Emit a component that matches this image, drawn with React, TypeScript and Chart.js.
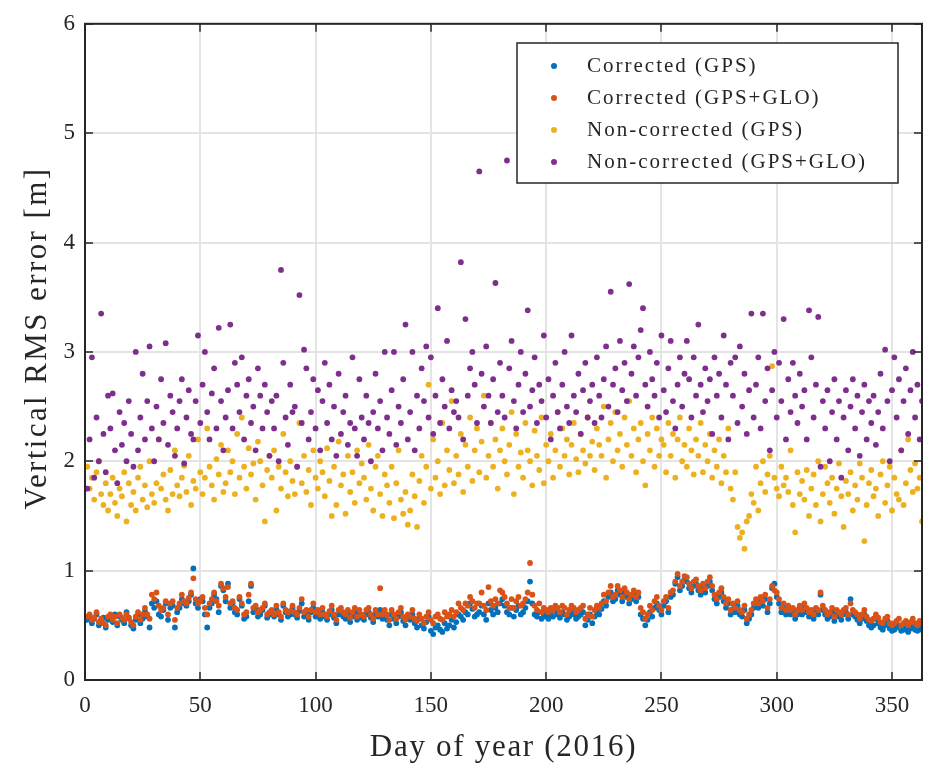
import React, { useEffect, useRef } from 'react';
import { Chart, registerables } from 'chart.js';
Chart.register(...registerables);

const seriesNames = ['Corrected (GPS)', 'Corrected (GPS+GLO)', 'Non-corrected (GPS)', 'Non-corrected (GPS+GLO)'];
const seriesColors = ['#0072BD', '#D95319', '#EDB120', '#7E2F8E'];
const xTickValues = [0, 50, 100, 150, 200, 250, 300, 350];
const yTickValues = [0, 1, 2, 3, 4, 5, 6];
const xTitle = 'Day of year (2016)';
const yTitle = 'Vertical RMS error [m]';

// Day of year 1..365
const correctedGPS = [
  0.55,0.58,0.52,0.56,0.6,0.5,0.54,0.57,0.48,0.55,
  0.56,0.53,0.6,0.5,0.58,0.55,0.52,0.62,0.57,0.5,
  0.47,0.55,0.6,0.52,0.56,0.63,0.58,0.48,0.7,0.66,
  0.72,0.6,0.58,0.64,0.7,0.55,0.66,0.68,0.48,0.62,
  0.66,0.74,0.7,0.68,0.72,0.78,1.02,0.7,0.66,0.74,
  0.72,0.6,0.48,0.66,0.7,0.78,0.74,0.62,0.86,0.82,
  0.72,0.88,0.66,0.7,0.62,0.6,0.74,0.68,0.56,0.58,
  0.72,0.86,0.62,0.66,0.58,0.6,0.64,0.68,0.57,0.6,
  0.62,0.58,0.65,0.6,0.55,0.68,0.62,0.58,0.6,0.66,
  0.6,0.57,0.63,0.7,0.58,0.6,0.55,0.62,0.66,0.58,
  0.6,0.56,0.62,0.58,0.55,0.6,0.64,0.57,0.52,0.6,
  0.62,0.58,0.56,0.6,0.53,0.58,0.62,0.55,0.6,0.57,
  0.55,0.6,0.62,0.57,0.53,0.6,0.58,0.64,0.56,0.6,
  0.55,0.5,0.6,0.56,0.52,0.58,0.62,0.54,0.5,0.57,
  0.55,0.6,0.52,0.48,0.56,0.5,0.47,0.53,0.58,0.45,
  0.42,0.48,0.5,0.46,0.44,0.52,0.47,0.5,0.55,0.48,
  0.53,0.6,0.58,0.55,0.62,0.6,0.7,0.65,0.58,0.6,
  0.62,0.68,0.6,0.55,0.7,0.64,0.6,0.66,0.62,0.7,
  0.74,0.68,0.62,0.6,0.66,0.58,0.64,0.68,0.6,0.62,
  0.66,0.72,0.9,0.7,0.6,0.58,0.62,0.56,0.6,0.58,
  0.56,0.6,0.58,0.63,0.6,0.57,0.62,0.6,0.55,0.58,
  0.62,0.6,0.56,0.58,0.6,0.62,0.5,0.55,0.6,0.52,
  0.58,0.62,0.6,0.65,0.72,0.68,0.76,0.8,0.72,0.74,
  0.82,0.78,0.72,0.8,0.76,0.7,0.74,0.78,0.72,0.76,
  0.6,0.56,0.5,0.55,0.62,0.58,0.66,0.7,0.64,0.6,
  0.68,0.72,0.62,0.76,0.78,0.88,0.94,0.82,0.86,0.92,
  0.9,0.84,0.8,0.86,0.88,0.82,0.78,0.84,0.8,0.86,
  0.9,0.82,0.74,0.7,0.76,0.8,0.72,0.66,0.7,0.6,
  0.65,0.62,0.68,0.6,0.58,0.64,0.52,0.56,0.6,0.66,
  0.7,0.66,0.72,0.68,0.74,0.62,0.7,0.84,0.88,0.76,
  0.7,0.62,0.66,0.6,0.64,0.6,0.62,0.56,0.6,0.64,
  0.6,0.66,0.62,0.58,0.6,0.56,0.62,0.6,0.78,0.64,
  0.6,0.56,0.58,0.62,0.54,0.6,0.58,0.55,0.6,0.62,
  0.56,0.74,0.6,0.58,0.55,0.52,0.56,0.6,0.54,0.5,
  0.48,0.5,0.56,0.52,0.48,0.46,0.5,0.54,0.47,0.45,
  0.46,0.48,0.5,0.45,0.46,0.48,0.44,0.47,0.5,0.46,
  0.45,0.48,0.46,0.5,0.47,
];

const correctedGPSGLO = [
  0.58,0.6,0.55,0.57,0.62,0.53,0.56,0.52,0.5,0.58,
  0.6,0.55,0.58,0.52,0.6,0.57,0.55,0.6,0.56,0.53,
  0.5,0.58,0.62,0.55,0.6,0.66,0.6,0.56,0.78,0.74,
  0.8,0.68,0.64,0.66,0.72,0.6,0.7,0.72,0.55,0.66,
  0.7,0.78,0.72,0.7,0.75,0.8,0.93,0.74,0.7,0.72,
  0.76,0.66,0.6,0.7,0.74,0.8,0.72,0.68,0.88,0.84,
  0.76,0.85,0.7,0.72,0.66,0.64,0.76,0.7,0.6,0.62,
  0.78,0.88,0.66,0.68,0.62,0.64,0.66,0.7,0.6,0.62,
  0.64,0.6,0.68,0.62,0.58,0.7,0.64,0.62,0.63,0.68,
  0.62,0.6,0.66,0.74,0.62,0.64,0.58,0.64,0.7,0.62,
  0.64,0.6,0.66,0.6,0.58,0.63,0.68,0.6,0.55,0.64,
  0.66,0.62,0.6,0.64,0.57,0.62,0.66,0.58,0.64,0.6,
  0.58,0.64,0.66,0.6,0.56,0.64,0.6,0.84,0.6,0.64,
  0.6,0.55,0.64,0.6,0.56,0.62,0.66,0.58,0.55,0.6,
  0.58,0.64,0.56,0.54,0.6,0.56,0.52,0.58,0.62,0.55,
  0.52,0.58,0.6,0.56,0.55,0.62,0.58,0.6,0.64,0.58,
  0.62,0.7,0.66,0.64,0.7,0.68,0.76,0.72,0.66,0.7,
  0.7,0.8,0.68,0.64,0.85,0.72,0.68,0.74,0.7,0.82,
  0.8,0.76,0.7,0.66,0.74,0.66,0.72,0.76,0.68,0.7,
  0.74,0.8,1.07,0.78,0.68,0.64,0.7,0.62,0.66,0.64,
  0.62,0.66,0.64,0.68,0.66,0.62,0.68,0.66,0.6,0.64,
  0.68,0.66,0.62,0.64,0.66,0.68,0.56,0.6,0.66,0.58,
  0.64,0.68,0.66,0.7,0.78,0.72,0.8,0.86,0.76,0.78,
  0.86,0.82,0.76,0.84,0.8,0.74,0.78,0.82,0.76,0.8,
  0.66,0.62,0.56,0.6,0.68,0.64,0.72,0.76,0.68,0.64,
  0.72,0.76,0.66,0.8,0.82,0.9,0.97,0.86,0.9,0.95,
  0.94,0.88,0.84,0.9,0.92,0.86,0.82,0.88,0.84,0.9,
  0.94,0.86,0.78,0.74,0.8,0.84,0.76,0.7,0.74,0.64,
  0.7,0.66,0.72,0.64,0.62,0.68,0.56,0.6,0.64,0.7,
  0.74,0.7,0.76,0.72,0.78,0.66,0.74,0.86,0.82,0.8,
  0.74,0.66,0.7,0.64,0.68,0.64,0.66,0.6,0.64,0.68,
  0.64,0.7,0.66,0.62,0.64,0.6,0.66,0.64,0.8,0.68,
  0.64,0.6,0.62,0.66,0.58,0.64,0.62,0.6,0.64,0.66,
  0.6,0.7,0.64,0.62,0.6,0.56,0.6,0.64,0.58,0.55,
  0.54,0.56,0.6,0.57,0.53,0.52,0.56,0.58,0.52,0.5,
  0.52,0.54,0.56,0.5,0.52,0.54,0.5,0.53,0.56,0.52,
  0.5,0.54,0.52,0.56,0.53,
];

const nonCorrectedGPS = [
  1.95,1.75,1.85,1.65,1.9,2.0,1.7,1.6,1.8,1.55,
  1.7,1.85,1.62,1.5,1.75,1.68,1.9,1.45,1.8,1.6,
  1.72,1.55,1.85,1.95,1.65,1.78,1.58,2.0,1.7,1.62,
  1.8,2.2,1.75,1.88,1.65,1.55,1.92,1.7,2.1,1.78,
  1.68,1.85,1.96,1.72,2.05,1.6,1.82,1.75,2.2,1.9,
  1.7,1.85,2.3,1.95,1.78,1.65,2.02,1.88,2.15,1.72,
  1.8,2.1,1.9,2.0,1.7,2.25,1.85,2.4,1.95,1.75,
  2.12,1.88,1.98,1.65,2.18,2.0,1.78,1.45,1.92,2.05,
  1.85,2.1,1.55,1.95,1.75,2.25,1.9,1.68,2.0,1.82,
  1.7,1.95,2.35,1.8,2.05,1.72,1.92,1.6,2.1,1.85,
  1.75,2.0,1.9,1.68,2.12,1.82,1.5,1.95,1.6,2.18,
  1.78,1.88,1.52,2.05,1.72,1.9,1.62,2.1,1.8,1.98,
  1.85,1.65,2.15,1.75,1.55,1.95,2.05,1.7,1.5,1.88,
  1.78,1.62,1.95,1.48,1.8,2.1,1.65,1.52,1.72,1.42,
  1.55,1.88,1.68,1.4,1.82,2.05,1.62,1.95,2.7,1.75,
  2.2,1.85,2.0,1.7,2.35,1.78,2.1,1.92,2.55,1.8,
  2.05,1.88,2.25,1.72,2.15,1.95,2.4,1.82,2.1,2.3,
  1.9,2.18,2.6,1.85,2.05,2.35,1.95,2.2,1.75,2.1,
  2.3,2.0,1.88,2.15,2.45,1.7,2.25,1.95,2.08,1.85,
  2.35,2.1,2.0,1.78,2.28,2.05,1.92,2.4,1.8,2.15,
  2.0,2.25,1.85,2.1,2.45,1.95,2.3,2.05,2.2,1.88,
  2.15,2.35,2.02,1.9,2.25,2.1,1.98,2.4,2.05,2.18,
  1.92,2.3,2.15,2.05,2.5,1.85,2.2,2.35,2.0,2.45,
  2.1,2.25,1.95,2.4,2.15,2.55,2.05,2.3,1.9,2.2,
  2.35,2.0,1.78,2.25,2.1,2.4,1.95,2.3,2.05,2.2,
  2.15,1.9,2.35,2.05,2.25,1.85,2.2,2.4,2.0,2.15,
  1.95,2.3,2.1,1.88,2.2,2.05,2.35,1.9,2.15,2.0,
  2.25,1.85,2.1,1.95,2.2,1.8,2.05,1.9,2.3,1.75,
  1.65,1.9,1.4,1.3,1.35,1.2,1.45,1.5,1.7,1.62,
  1.95,1.55,1.8,2.0,1.72,1.88,2.05,2.87,1.85,1.75,
  1.68,1.95,1.78,1.85,1.72,2.1,1.6,1.35,1.9,1.7,
  1.82,1.65,1.92,1.5,1.75,1.88,1.6,2.0,1.45,1.7,
  1.95,1.8,1.62,1.85,1.52,1.75,1.98,1.68,1.4,1.82,
  1.7,1.9,1.55,1.78,1.65,1.98,1.85,1.27,1.6,1.8,
  1.92,1.68,1.75,1.5,1.88,2.0,1.62,1.78,1.95,1.55,
  1.85,1.7,1.65,2.1,1.6,1.8,2.2,1.92,1.72,1.98,
  1.75,1.85,1.45,1.65,1.8,
];

const nonCorrectedGPSGLO = [
  1.75,2.2,2.95,1.85,2.4,2.0,3.35,2.25,1.9,2.6,
  2.3,2.62,2.1,1.8,2.45,2.15,2.35,2.0,2.55,2.25,
  1.95,3.0,2.1,2.4,2.8,2.2,2.55,3.05,2.3,2.0,
  2.5,2.2,2.75,2.35,3.08,2.15,2.6,2.45,2.05,2.3,
  2.55,2.75,1.98,2.4,2.65,2.25,2.2,2.55,3.15,2.35,
  2.7,3.0,2.45,2.2,2.62,2.85,2.3,3.22,2.55,2.1,
  2.4,2.65,3.25,2.3,2.9,2.7,2.45,2.95,2.2,2.6,
  2.75,2.35,2.5,2.1,2.85,2.6,2.3,2.7,2.45,2.05,
  2.55,2.3,2.6,2.0,3.75,2.9,2.4,2.15,2.7,2.45,
  2.5,1.95,3.52,2.35,3.02,2.85,2.2,2.45,2.75,2.3,
  2.65,2.1,2.55,2.9,2.35,2.7,2.2,2.5,2.05,2.8,
  2.25,2.45,2.6,2.15,2.35,2.95,2.3,2.05,2.75,2.4,
  2.2,2.6,2.35,2.0,2.45,2.8,2.3,2.55,2.1,3.0,
  2.4,2.25,2.65,3.0,2.15,2.5,2.35,2.75,3.25,2.2,
  2.45,3.0,2.1,2.6,2.3,2.85,2.55,3.05,2.4,2.95,
  2.25,2.6,3.4,2.35,2.75,2.5,3.1,2.3,2.65,2.45,
  2.55,2.4,3.82,2.2,3.3,2.6,2.85,3.0,2.7,2.35,
  4.65,2.8,2.5,3.05,2.6,2.35,2.75,3.63,2.45,2.9,
  2.6,2.4,4.75,2.85,3.1,2.55,2.3,2.7,3.0,2.45,
  2.8,3.38,2.5,2.65,2.95,2.35,2.7,2.55,3.15,2.4,
  2.75,2.2,2.6,2.9,2.45,2.3,2.7,3.0,2.5,2.35,
  3.15,2.6,2.45,2.8,2.25,2.65,2.9,2.4,2.55,2.7,
  2.35,2.95,2.6,2.4,2.75,3.05,2.5,3.55,2.7,2.85,
  2.45,3.1,2.65,2.9,2.55,3.62,2.8,3.05,2.6,2.95,
  3.2,3.4,2.7,2.5,3.0,2.75,2.6,2.9,2.4,3.15,
  2.65,2.45,2.85,3.1,2.55,2.3,2.7,2.95,2.5,2.8,
  3.1,2.75,2.4,2.95,2.6,3.25,2.7,2.45,2.85,2.55,
  2.75,2.25,2.95,2.6,2.8,2.4,3.15,2.7,2.2,2.9,
  2.6,2.95,2.35,3.05,2.5,2.8,2.25,2.65,3.35,2.4,
  2.7,2.95,2.3,3.35,2.55,2.85,2.1,2.65,3.0,2.4,
  2.9,2.55,3.3,2.2,2.75,2.45,2.9,2.6,2.35,2.8,
  2.5,2.65,2.2,3.38,2.95,2.4,2.7,3.32,1.95,2.55,
  2.3,2.65,2.0,2.45,2.75,2.2,2.55,1.85,2.4,2.65,
  2.1,2.5,2.75,2.3,2.6,2.05,2.45,2.7,2.2,2.55,
  2.35,2.6,2.15,2.45,2.8,2.3,3.02,2.55,2.0,2.65,
  2.95,2.4,2.75,2.1,2.55,2.85,2.25,2.65,3.0,2.4,
  2.7,2.2,2.55,2.8,2.35,
];

const allSeries = [correctedGPS, correctedGPSGLO, nonCorrectedGPS, nonCorrectedGPSGLO];

const FONT = "'Liberation Serif', 'Times New Roman', serif";
const INK = '#262626';

const framePlugin = {
  id: 'frame',
  afterDatasetsDraw(chart: any) {
    const { ctx, chartArea: a, scales } = chart;
    ctx.save();
    ctx.strokeStyle = INK;
    ctx.lineWidth = 1.5;
    const tl = 8;
    xTickValues.forEach((v) => {
      const px = Math.round(scales.x.getPixelForValue(v));
      ctx.beginPath();
      ctx.moveTo(px, a.bottom); ctx.lineTo(px, a.bottom - tl);
      ctx.moveTo(px, a.top); ctx.lineTo(px, a.top + tl);
      ctx.stroke();
    });
    yTickValues.forEach((v) => {
      const py = Math.round(scales.y.getPixelForValue(v));
      ctx.beginPath();
      ctx.moveTo(a.left, py); ctx.lineTo(a.left + tl, py);
      ctx.moveTo(a.right, py); ctx.lineTo(a.right - tl, py);
      ctx.stroke();
    });
    ctx.lineWidth = 2;
    ctx.strokeRect(a.left, a.top, a.right - a.left, a.bottom - a.top);

    // axis titles
    ctx.fillStyle = INK;
    ctx.textAlign = 'center';
    ctx.textBaseline = 'middle';
    ctx.font = `31px ${FONT}`;
    (ctx as any).letterSpacing = '1.7px';
    ctx.fillText(xTitle, (a.left + a.right) / 2, 748);
    ctx.save();
    ctx.translate(38, 338);
    ctx.rotate(-Math.PI / 2);
    (ctx as any).letterSpacing = '2.4px';
    ctx.fillText(yTitle, 0, 0);
    ctx.restore();

    // legend box
    const bx = 517, by = 43, bw = 381, bh = 140;
    ctx.fillStyle = '#ffffff';
    ctx.fillRect(bx, by, bw, bh);
    ctx.lineWidth = 1.5;
    ctx.strokeStyle = INK;
    ctx.strokeRect(bx, by, bw, bh);
    ctx.font = `21px ${FONT}`;
    (ctx as any).letterSpacing = '2px';
    ctx.textBaseline = 'middle';
    ctx.textAlign = 'left';
    seriesNames.forEach((name, i) => {
      const y = by + 23 + i * 32;
      ctx.fillStyle = seriesColors[i];
      ctx.beginPath();
      ctx.arc(bx + 37, y, 3, 0, Math.PI * 2);
      ctx.fill();
      ctx.fillStyle = INK;
      ctx.fillText(name, bx + 70, y);
    });
    (ctx as any).letterSpacing = '0px';
    ctx.restore();
  },
};

export default function App() {
  const ref = useRef<HTMLCanvasElement>(null);
  useEffect(() => {
    document.body.style.margin = '0';
    const canvas = ref.current!;
    const chart = new Chart(canvas, {
      type: 'scatter',
      data: {
        datasets: allSeries.map((arr, i) => ({
          label: seriesNames[i],
          data: arr.map((v, d) => ({ x: d + 1, y: v })),
          backgroundColor: seriesColors[i],
          borderColor: seriesColors[i],
          pointRadius: 2.9,
          pointBorderWidth: 0,
          pointHoverRadius: 2.9,
          order: 4 - i,
        })),
      },
      options: {
        animation: false,
        responsive: false,
        devicePixelRatio: 1,
        layout: { padding: { top: 19, right: 3, left: 0, bottom: 0 } },
        plugins: { legend: { display: false }, tooltip: { enabled: false } },
        scales: {
          x: {
            type: 'linear',
            min: 0,
            max: 363,
            afterBuildTicks: (s: any) => { s.ticks = xTickValues.map((v) => ({ value: v })); },
            afterFit: (s: any) => { s.height = 90; },
            grid: { color: '#e4e4e4', lineWidth: 2, drawTicks: false },
            border: { display: false },
            ticks: { color: INK, font: { family: FONT, size: 23 }, padding: 12, maxRotation: 0 },
            title: { display: false, text: xTitle },
          },
          y: {
            type: 'linear',
            min: 0,
            max: 6,
            afterBuildTicks: (s: any) => { s.ticks = yTickValues.map((v) => ({ value: v })); },
            afterFit: (s: any) => { s.width = 85; },
            grid: { color: '#e4e4e4', lineWidth: 2, drawTicks: false },
            border: { display: false },
            ticks: { color: INK, font: { family: FONT, size: 23 }, padding: 10 },
            title: { display: false, text: yTitle },
          },
        },
      },
      plugins: [framePlugin],
    });
    return () => chart.destroy();
  }, []);
  return <canvas ref={ref} width={925} height={770} style={{ display: 'block' }} />;
}
